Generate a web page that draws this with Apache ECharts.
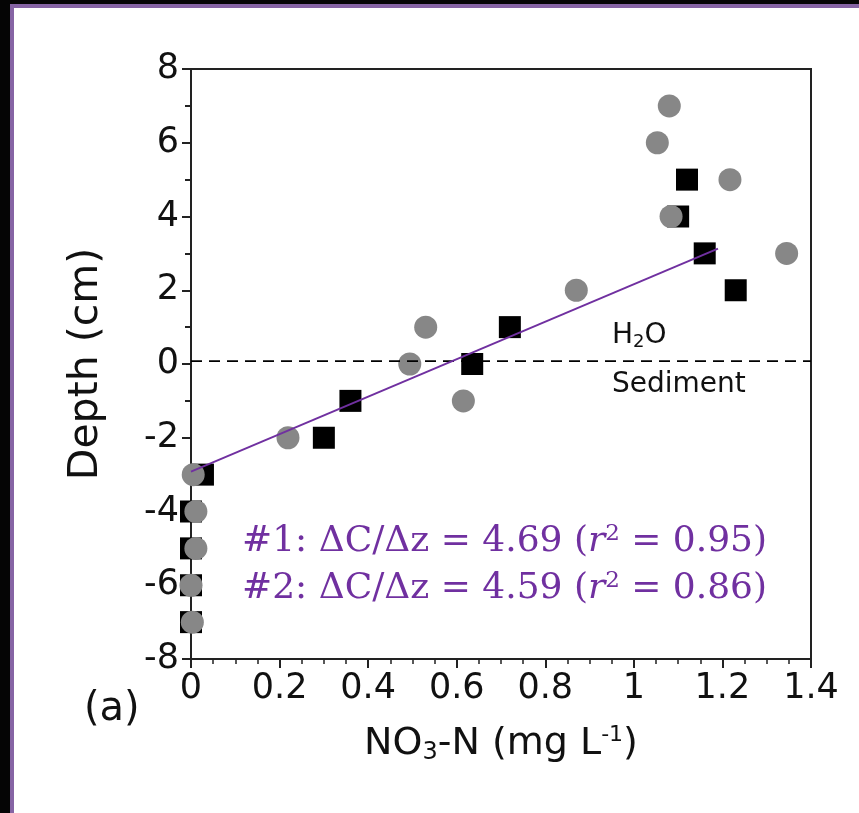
<!DOCTYPE html>
<html lang="en">
<head>
    <meta charset="UTF-8">
    <title>NO3-N depth profile</title>
    <script src="https://cdn.jsdelivr.net/npm/echarts@6/dist/echarts.min.js"></script>
    <style>
        html, body { margin: 0; padding: 0; background: #fff; }
        #chart { width: 859px; height: 813px; }
    </style>
</head>
<body>
    <div id="chart"></div>
    <script>
        // core #1 (black squares)
        const depth1 = [5, 4, 3, 2, 1, 0, -1, -2, -3, -4, -5, -6, -7];
        const no3Core1 = [1.12, 1.10, 1.16, 1.23, 0.72, 0.635, 0.36, 0.30, 0.027, 0, 0, 0, 0];
        // core #2 (grey circles)
        const depth2 = [7, 6, 5, 4, 3, 2, 1, 0, -1, -2, -3, -4, -5, -6, -7];
        const no3Core2 = [1.08, 1.053, 1.217, 1.084, 1.345, 0.87, 0.53, 0.494, 0.615, 0.219, 0.005, 0.011, 0.011, 0, 0.003];
        // regression line end points and sediment-water interface
        const fitX = [0, 1.19];
        const fitY = [-2.92, 3.13];
        const interfaceDepth = 0.08;
        const interfaceX = [0, 1.4];
        const fitLabels = [
            ['#1: ΔC/Δz = 4.69 (', ' = 0.95)'],
            ['#2: ΔC/Δz = 4.59 (', ' = 0.86)']
        ];

        const purple = '#7030a0';
        const sans = 'DejaVu Sans';
        const chart = echarts.init(document.getElementById('chart'));

        const option = {
            animation: false,
            backgroundColor: '#fff',
            grid: {
                left: 191, right: 48, top: 69, bottom: 154,
                show: true, borderColor: '#222', borderWidth: 2
            },
            xAxis: {
                type: 'value', min: 0, max: 1.4, interval: 0.2,
                name: 'NO{sub|3}-N (mg L{sup|-1})',
                nameLocation: 'middle', nameGap: 64,
                nameTextStyle: {
                    fontFamily: sans, fontSize: 38, color: '#111',
                    rich: {
                        sub: { fontSize: 24, fontFamily: sans, color: '#111', padding: [18, 0, 0, 0] },
                        sup: { fontSize: 22, fontFamily: sans, color: '#111', padding: [0, 0, 18, 0] }
                    }
                },
                axisLine: { onZero: false, lineStyle: { color: '#222', width: 2 } },
                axisTick: { inside: false, length: 9, lineStyle: { color: '#222', width: 2 } },
                minorTick: { show: true, splitNumber: 4, length: 5, lineStyle: { color: '#222', width: 1.5 } },
                axisLabel: { margin: 12, fontFamily: sans, fontSize: 35, color: '#111' },
                splitLine: { show: false }
            },
            yAxis: {
                type: 'value', min: -8, max: 8, interval: 2,
                name: 'Depth (cm)',
                nameLocation: 'middle', nameGap: 84, nameRotate: 90,
                nameTextStyle: { fontFamily: sans, fontSize: 41, color: '#111' },
                axisLine: { onZero: false, lineStyle: { color: '#222', width: 2 } },
                axisTick: { inside: false, length: 9, lineStyle: { color: '#222', width: 2 } },
                minorTick: { show: true, splitNumber: 2, length: 6, lineStyle: { color: '#222', width: 2 } },
                axisLabel: { margin: 12, fontFamily: sans, fontSize: 35, color: '#111' },
                splitLine: { show: false }
            },
            series: [
                {
                    type: 'scatter', z: 2,
                    symbol: 'rect', symbolSize: 22,
                    itemStyle: { color: '#000', opacity: 1 },
                    data: no3Core1.map((v, i) => [v, depth1[i]])
                },
                {
                    type: 'scatter', z: 3,
                    symbol: 'circle', symbolSize: 23,
                    itemStyle: { color: '#878787', opacity: 1 },
                    data: no3Core2.map((v, i) => [v, depth2[i]])
                },
                {
                    type: 'line', z: 4, symbol: 'none',
                    lineStyle: { color: '#000', width: 1.8, type: [11, 7] },
                    data: interfaceX.map(x => [x, interfaceDepth])
                },
                {
                    type: 'line', z: 5, symbol: 'none',
                    lineStyle: { color: purple, width: 2 },
                    data: fitX.map((x, i) => [x, fitY[i]])
                }
            ],
            graphic: [
                // frame of the scanned figure
                { type: 'rect', left: 0, top: 0, shape: { width: 14, height: 813 }, style: { fill: '#8664a4' }, z: 10 },
                { type: 'rect', left: 0, top: 0, shape: { width: 859, height: 8 }, style: { fill: '#8664a4' }, z: 10 },
                { type: 'rect', left: 0, top: 0, shape: { width: 10, height: 813 }, style: { fill: '#050505' }, z: 11 },
                { type: 'rect', left: 0, top: 0, shape: { width: 859, height: 4 }, style: { fill: '#050505' }, z: 11 },
                {
                    type: 'text', left: 84, top: 690, z: 10,
                    style: { text: '(a)', font: '40px "DejaVu Sans"', fill: '#111' }
                },
                {
                    type: 'text', left: 612, top: 322, z: 10,
                    style: {
                        text: 'H{sub|2}O', font: '28px "DejaVu Sans"', fill: '#111',
                        rich: { sub: { fontSize: 18, fontFamily: sans, fill: '#111', padding: [12, 0, 0, 0] } }
                    }
                },
                {
                    type: 'text', left: 612, top: 371, z: 10,
                    style: { text: 'Sediment', font: '28px "DejaVu Sans"', fill: '#111' }
                }
            ].concat(fitLabels.map((parts, i) => ({
                type: 'text', left: 242, top: 523 + i * 47, z: 10,
                style: {
                    text: parts[0] + '{it|r}{sup|2}' + parts[1],
                    font: '36px "DejaVu Serif"', fill: purple,
                    rich: {
                        it: { fontStyle: 'italic', fontSize: 36, fontFamily: 'DejaVu Serif', fill: purple },
                        sup: { fontSize: 23, fontFamily: 'DejaVu Serif', fill: purple, padding: [0, 0, 14, 0] }
                    }
                }
            })))
        };

        chart.setOption(option);
    </script>
</body>
</html>
